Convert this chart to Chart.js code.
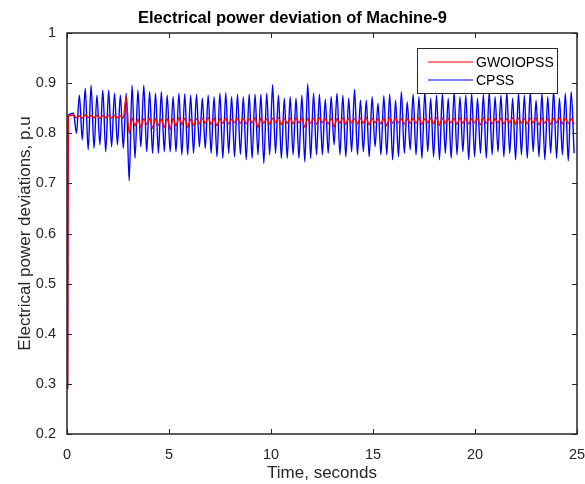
<!DOCTYPE html>
<html>
<head>
<meta charset="utf-8">
<script src="https://cdn.jsdelivr.net/npm/chart.js@4.4.1/dist/chart.umd.min.js"></script>
<style>
  html, body { margin: 0; padding: 0; background: #fff; }
</style>
</head>
<body>
<canvas id="powerChart" width="585" height="484"></canvas>
<script>
// time axis: oscillation extremes sit every half period after the fault
const startTimes = [0.03, 0.06];
const firstPeakTime = 0.32;
const halfPeriod = 0.1435;

const xTicks = [0, 5, 10, 15, 20, 25];
const yTicks = [0.2, 0.3, 0.4, 0.5, 0.6, 0.7, 0.8, 0.9, 1];

// CPSS: start values, then peak / trough of each swing
const cpssStart = [0.29, 0.835];
const cpssPeaks = [
  0.840, 0.876, 0.890, 0.896, 0.876, 0.886, 0.886, 0.880, 0.876, 0.880, 0.896, 0.886, 0.896, 0.883,
  0.880, 0.883, 0.876, 0.873, 0.880, 0.879, 0.876, 0.878, 0.870, 0.876, 0.873, 0.880, 0.881, 0.873, 0.878,
  0.873, 0.878, 0.878, 0.878, 0.880, 0.897, 0.876, 0.870, 0.873, 0.870, 0.876, 0.899, 0.880, 0.878, 0.868,
  0.873, 0.880, 0.876, 0.870, 0.888, 0.866, 0.866, 0.873, 0.860, 0.875, 0.878, 0.866, 0.883, 0.863,
  0.878, 0.873, 0.883, 0.870, 0.876, 0.880, 0.870, 0.883, 0.873, 0.876, 0.880, 0.870, 0.878, 0.883, 0.873,
  0.876, 0.883, 0.870, 0.880, 0.876, 0.883, 0.866, 0.880, 0.873, 0.886, 0.870, 0.880, 0.883
];
const cpssTroughs = [
  0.800, 0.787, 0.767, 0.770, 0.777, 0.763, 0.773, 0.777, 0.770, 0.705, 0.750, 0.773, 0.763, 0.760,
  0.760, 0.763, 0.763, 0.763, 0.757, 0.757, 0.760, 0.773, 0.770, 0.760, 0.753, 0.750, 0.760, 0.753, 0.758,
  0.747, 0.750, 0.757, 0.740, 0.757, 0.760, 0.750, 0.750, 0.757, 0.750, 0.743, 0.750, 0.757, 0.757, 0.760,
  0.777, 0.757, 0.753, 0.763, 0.757, 0.763, 0.753, 0.773, 0.757, 0.757, 0.747, 0.753, 0.760, 0.767,
  0.757, 0.750, 0.763, 0.753, 0.747, 0.760, 0.750, 0.757, 0.763, 0.747, 0.753, 0.760, 0.750, 0.757, 0.763,
  0.753, 0.760, 0.747, 0.757, 0.750, 0.763, 0.753, 0.747, 0.760, 0.750, 0.757, 0.745, 0.760
];

// GWOIOPSS: small ripple around the operating point
const gwoStart = [0.29, 0.835];
const gwoHighs = [
  0.836, 0.835, 0.837, 0.835, 0.836, 0.835, 0.836, 0.836, 0.835, 0.872, 0.830, 0.828, 0.829, 0.830,
  0.829, 0.828, 0.830, 0.829, 0.831, 0.830, 0.828, 0.829, 0.830, 0.831, 0.830, 0.829, 0.830, 0.828, 0.830,
  0.830, 0.829, 0.831, 0.830, 0.829, 0.830, 0.831, 0.829, 0.830, 0.831, 0.830, 0.829, 0.830, 0.831, 0.829,
  0.830, 0.829, 0.831, 0.830, 0.829, 0.830, 0.831, 0.830, 0.829, 0.830, 0.831, 0.830, 0.829, 0.830,
  0.830, 0.831, 0.829, 0.830, 0.831, 0.830, 0.829, 0.830, 0.831, 0.830, 0.829, 0.830, 0.831, 0.830, 0.829,
  0.830, 0.829, 0.831, 0.830, 0.829, 0.830, 0.831, 0.830, 0.829, 0.830, 0.831, 0.830, 0.829
];
const gwoLows = [
  0.831, 0.830, 0.832, 0.831, 0.830, 0.831, 0.830, 0.831, 0.830, 0.800, 0.815, 0.812, 0.818, 0.810,
  0.816, 0.812, 0.808, 0.815, 0.818, 0.812, 0.816, 0.819, 0.820, 0.818, 0.815, 0.820, 0.819, 0.821, 0.820,
  0.819, 0.821, 0.811, 0.820, 0.818, 0.821, 0.817, 0.820, 0.819, 0.821, 0.812, 0.820, 0.818, 0.821, 0.819,
  0.813, 0.820, 0.818, 0.821, 0.819, 0.820, 0.817, 0.821, 0.819, 0.815, 0.820, 0.821, 0.818, 0.820,
  0.820, 0.818, 0.821, 0.819, 0.816, 0.820, 0.821, 0.818, 0.820, 0.819, 0.821, 0.817, 0.820, 0.819, 0.821,
  0.819, 0.821, 0.818, 0.820, 0.819, 0.821, 0.817, 0.820, 0.818, 0.821, 0.819, 0.820, 0.818
];

function buildSeries(start, highs, lows) {
  const pts = start.map((v, i) => ({ x: startTimes[i], y: v }));
  highs.forEach((v, k) => {
    const t = firstPeakTime + 2 * k * halfPeriod;
    pts.push({ x: t, y: v });
    pts.push({ x: t + halfPeriod, y: lows[k] });
  });
  return pts;
}

const axisColor = "#262626";
const fontFamily = "'Liberation Sans', Arial, sans-serif";

// MATLAB style box with inward ticks, plus legend inside the axes
const matlabBox = {
  id: "matlabBox",
  afterDatasetsDraw(chart) {
    const { ctx, chartArea: a, scales } = chart;
    ctx.save();
    ctx.strokeStyle = axisColor;
    ctx.lineWidth = 1;
    ctx.beginPath();
    xTicks.forEach((v) => {
      const px = Math.round(scales.x.getPixelForValue(v)) + 0.5;
      ctx.moveTo(px, a.bottom); ctx.lineTo(px, a.bottom - 5);
      ctx.moveTo(px, a.top); ctx.lineTo(px, a.top + 5);
    });
    yTicks.forEach((v) => {
      const py = Math.round(scales.y.getPixelForValue(v)) + 0.5;
      ctx.moveTo(a.left, py); ctx.lineTo(a.left + 5, py);
      ctx.moveTo(a.right, py); ctx.lineTo(a.right - 5, py);
    });
    ctx.stroke();
    ctx.lineWidth = 1.5;
    ctx.strokeRect(a.left, a.top, a.right - a.left, a.bottom - a.top);

    // legend
    const bx = a.right - 160, by = a.top + 15, bw = 140, bh = 45;
    ctx.fillStyle = "#fff";
    ctx.fillRect(bx, by, bw, bh);
    ctx.lineWidth = 1;
    ctx.strokeRect(bx + 0.5, by + 0.5, bw, bh);
    ctx.font = "14px " + fontFamily;
    ctx.textBaseline = "middle";
    chart.data.datasets.forEach((ds, i) => {
      const ly = by + 14 + i * 18;
      ctx.strokeStyle = ds.borderColor;
      ctx.beginPath();
      ctx.moveTo(bx + 11, ly); ctx.lineTo(bx + 56, ly);
      ctx.stroke();
      ctx.fillStyle = "#000";
      ctx.fillText(ds.label, bx + 59, ly + 1);
    });
    ctx.restore();
  },
};

const ctx = document.getElementById("powerChart").getContext("2d");
new Chart(ctx, {
  type: "line",
  data: {
    datasets: [
      {
        label: "GWOIOPSS",
        data: buildSeries(gwoStart, gwoHighs, gwoLows),
        borderColor: "#ff0000",
        borderWidth: 1.4,
        pointRadius: 0,
        cubicInterpolationMode: "monotone",
        order: 0,
      },
      {
        label: "CPSS",
        data: buildSeries(cpssStart, cpssPeaks, cpssTroughs),
        borderColor: "#0000ff",
        borderWidth: 1.4,
        pointRadius: 0,
        cubicInterpolationMode: "monotone",
        order: 1,
      },
    ],
  },
  options: {
    responsive: false,
    animation: false,
    devicePixelRatio: 1,
    layout: { padding: { left: 0, right: 0, top: 0, bottom: 0 } },
    plugins: {
      legend: { display: false },
      tooltip: { enabled: false },
      title: {
        display: true,
        text: "Electrical power deviation of Machine-9",
        color: "#000",
        font: { family: fontFamily, size: 16.5, weight: "bold" },
        padding: { top: 8.5, bottom: 4.7 },
      },
    },
    scales: {
      x: {
        type: "linear",
        min: 0,
        max: 25,
        afterFit: (s) => { s.height = 50; s.paddingRight = 8; },
        afterBuildTicks: (s) => { s.ticks = xTicks.map((v) => ({ value: v })); },
        grid: { display: false },
        border: { display: false },
        ticks: { color: axisColor, padding: 4, maxRotation: 0, font: { family: fontFamily, size: 14.5 } },
        title: {
          display: true,
          text: "Time, seconds",
          color: axisColor,
          padding: { bottom: 0 },
          font: { family: fontFamily, size: 17 },
        },
      },
      y: {
        min: 0.2,
        max: 1,
        afterFit: (s) => { s.width = 67; },
        afterBuildTicks: (s) => { s.ticks = yTicks.map((v) => ({ value: v })); },
        grid: { display: false },
        border: { display: false },
        ticks: {
          color: axisColor,
          padding: 3,
          font: { family: fontFamily, size: 14.5 },
          callback: (v) => String(Math.round(v * 10) / 10),
        },
        title: {
          display: true,
          text: "Electrical power deviations, p.u",
          color: axisColor,
          padding: { top: 15 },
          font: { family: fontFamily, size: 17 },
        },
      },
    },
  },
  plugins: [matlabBox],
});
</script>
</body>
</html>
